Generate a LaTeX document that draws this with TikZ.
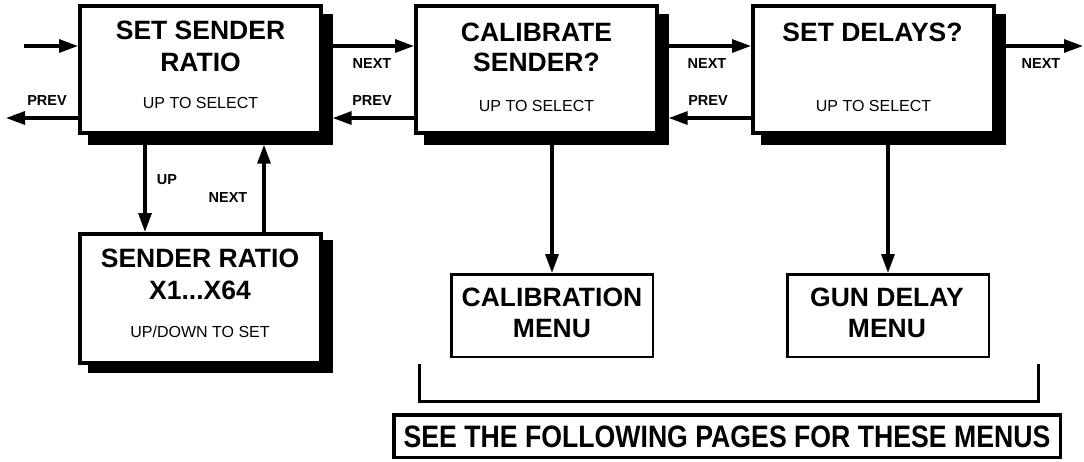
\documentclass[tikz,border=0pt]{standalone}
\usepackage{fontspec}
\setmainfont{Liberation Sans}
\usetikzlibrary{arrows.meta}
\begin{document}
\begin{tikzpicture}[x=1pt,y=-1pt,
  mainbox/.style={draw, line width=4pt, fill=white, minimum width=241pt, minimum height=127pt, inner sep=0pt},
  subbox/.style={draw, line width=4pt, fill=white, minimum width=241pt, minimum height=129pt, inner sep=0pt},
  shad/.style={fill=black, minimum width=245pt, minimum height=131pt, inner sep=0pt},
  shadb/.style={fill=black, minimum width=245pt, minimum height=133pt, inner sep=0pt},
  menubox/.style={draw, line width=2.5pt, fill=white, minimum width=201.5pt, minimum height=82.5pt, inner sep=0pt},
  notebox/.style={draw, line width=3.5pt, fill=white, minimum width=666.5pt, minimum height=42.5pt, inner sep=0pt},
  ttl/.style={font=\fontsize{26.5pt}{31pt}\selectfont\bfseries, inner sep=0pt, text height=19pt, text depth=0pt},
  sub/.style={font=\fontsize{16pt}{19pt}\selectfont, inner sep=0pt, text height=11.5pt, text depth=0pt},
  lbl/.style={font=\fontsize{14.5pt}{17pt}\selectfont\bfseries, inner sep=0pt, text height=10.4pt, text depth=0pt},
  arr/.style={line width=3.2pt, -{Triangle[length=19pt,width=13pt]}},
  brk/.style={line width=3pt}
]
\fill[white] (0,0) rectangle (1084,461);
\useasboundingbox (0,0) rectangle (1084,461);

% helper rows / columns
\coordinate (r1) at (0,46);
\coordinate (r2) at (0,118);
\coordinate (c1) at (145,0);
\coordinate (c2) at (264,0);

% shadows
\node[shad] (s1) at (210,79) {};
\node[shad] (s2) at (546,79) {};
\node[shad] (s3) at (883,79) {};
\node[shadb] (s4) at (210,306.5) {};

% main boxes
\node[mainbox] (b1) at (200.5,69.5) {};
\node[mainbox] (b2) at (536.5,69.5) {};
\node[mainbox] (b3) at (873.5,69.5) {};
\node[subbox] (b4) at (200,298.5) {};
\node[menubox] (cal) at (552,315.5) {};
\node[menubox] (gun) at (888,315.5) {};
\node[notebox] (see) at (727,436) {};

% texts
\node[ttl] (t1a) at (200.5,30) {SET SENDER};
\node[ttl] (t1b) at (200.5,62) {RATIO};
\node[sub] (t1c) at (200.5,103) {UP TO SELECT};
\node[ttl] (t2a) at (536.5,31.5) {CALIBRATE};
\node[ttl] (t2b) at (536.5,61.5) {SENDER?};
\node[sub] (t2c) at (536.5,106) {UP TO SELECT};
\node[ttl] (t3a) at (872.5,32) {SET DELAYS?};
\node[sub] (t3c) at (873.5,106) {UP TO SELECT};
\node[ttl] (t4a) at (200,258) {SENDER RATIO};
\node[ttl] (t4b) at (200,290) {X1...X64};
\node[sub] (t4c) at (200,332) {UP/DOWN TO SET};
\node[ttl] (tca) at (552,297) {CALIBRATION};
\node[ttl] (tcb) at (552,328) {MENU};
\node[ttl] (tga) at (887,297) {GUN DELAY};
\node[ttl] (tgb) at (887,328) {MENU};
\node[ttl, font=\fontsize{31pt}{36pt}\selectfont\bfseries, text height=22.2pt] (tsee) at (see.center) {\scalebox{0.86}[1]{SEE THE FOLLOWING PAGES FOR THESE MENUS}};

% connectors
\coordinate (inc) at (24,46);
\coordinate (outp) at (6,118);
\coordinate (outn) at (1083,46);
\draw[arr] (inc) -- (b1.west |- r1);
\draw[arr] (b1.west |- r2) -- (outp);
\draw[arr] (s1.east |- r1) -- (b2.west |- r1);
\draw[arr] (b2.west |- r2) -- (s1.east |- r2);
\draw[arr] (s2.east |- r1) -- (b3.west |- r1);
\draw[arr] (b3.west |- r2) -- (s2.east |- r2);
\draw[arr] (s3.east |- r1) -- (outn);
\draw[arr] (s1.south -| c1) -- (b4.north -| c1);
\draw[arr] (b4.north -| c2) -- (s1.south -| c2);
\draw[arr] (s2.south -| cal.north) -- (cal.north);
\draw[arr] (s3.south -| gun.north) -- (gun.north);

% bracket
\coordinate (k1) at (419,364);
\coordinate (k2) at (419,401);
\coordinate (k3) at (1038,401);
\coordinate (k4) at (1038,364);
\draw[brk] (k1) -- (k2) -- (k3) -- (k4);

% labels
\node[lbl] (lp0) at (47,100) {PREV};
\node[lbl] (ln1) at (372,63) {NEXT};
\node[lbl] (lp1) at (372,100) {PREV};
\node[lbl] (ln2) at (707,63) {NEXT};
\node[lbl] (lp2) at (708,100) {PREV};
\node[lbl] (ln3) at (1041,63) {NEXT};
\node[lbl] (lup) at (167,179) {UP};
\node[lbl] (ln4) at (228,197) {NEXT};
\end{tikzpicture}
\end{document}
